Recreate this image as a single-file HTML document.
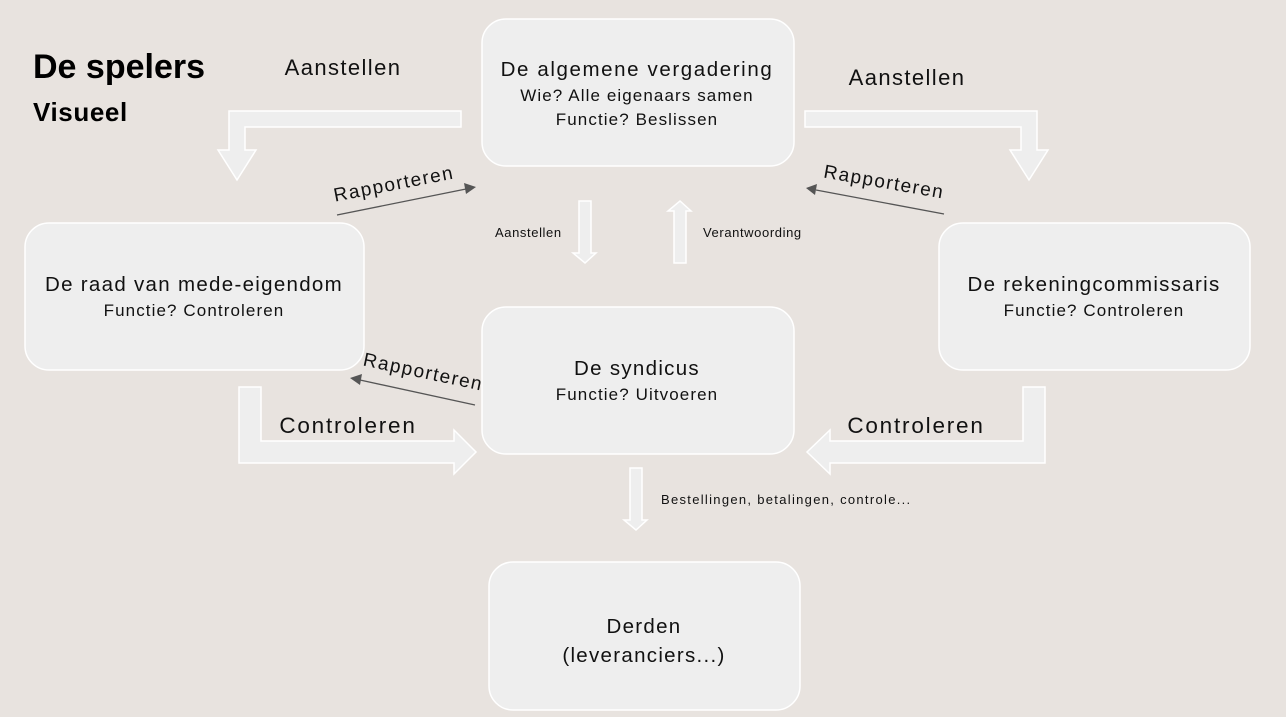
<!DOCTYPE html>
<html><head><meta charset="utf-8"><style>
html,body{margin:0;padding:0;background:#e8e3df;}
svg{display:block;font-family:"Liberation Sans",sans-serif;}
</style></head><body>
<svg width="1286" height="717" viewBox="0 0 1286 717">
<rect width="1286" height="717" fill="#e8e3df"/>
<g fill="#eeeeee" stroke="#ffffff" stroke-width="1.5">
<rect x="482" y="19" width="312" height="147" rx="24"/>
<rect x="25" y="223" width="339" height="147" rx="24"/>
<rect x="939" y="223" width="311" height="147" rx="24"/>
<rect x="482" y="307" width="312" height="147" rx="24"/>
<rect x="489" y="562" width="311" height="148" rx="24"/>
<polygon points="461,111 461,127 245,127 245,150 256,150 237,180 218,150 229,150 229,111"/>
<polygon points="805,111 805,127 1021,127 1021,150 1010,150 1029,180 1048,150 1037,150 1037,111"/>
<polygon points="239,387 261,387 261,441 454,441 454,430 476,452 454,474 454,463 239,463"/>
<polygon points="1045,387 1023,387 1023,441 830,441 830,430 807,452 830,474 830,463 1045,463"/>
<polygon points="579,201 591,201 591,253 596,253 585,263 573,253 579,253"/>
<polygon points="674,263 686,263 686,211 691,211 680,201 668,211 674,211"/>
<polygon points="630,468 642,468 642,520 647,520 636,530 624,520 630,520"/>
</g>
<g stroke="#555" stroke-width="1.3" fill="#555">
<line x1="337" y1="215" x2="466" y2="189"/><polygon points="476,187 464,183 466,194" stroke="none"/>
<line x1="944" y1="214" x2="816" y2="190"/><polygon points="806,188 817,184 815,195" stroke="none"/>
<line x1="475" y1="405" x2="360" y2="380"/><polygon points="350,378 362,374 360,385" stroke="none"/>
</g>
<g fill="#111" text-anchor="middle">
<text x="637" y="76" font-size="20.5" letter-spacing="1.6">De algemene vergadering</text>
<text x="637" y="101" font-size="17" letter-spacing="1.1">Wie? Alle eigenaars samen</text>
<text x="637" y="125" font-size="17" letter-spacing="1.1">Functie? Beslissen</text>
<text x="194" y="291" font-size="20.5" letter-spacing="1.3">De raad van mede-eigendom</text>
<text x="194" y="316" font-size="17" letter-spacing="1.1">Functie? Controleren</text>
<text x="1094" y="291" font-size="20.5" letter-spacing="1.3">De rekeningcommissaris</text>
<text x="1094" y="316" font-size="17" letter-spacing="1.1">Functie? Controleren</text>
<text x="637" y="375" font-size="20.5" letter-spacing="1.3">De syndicus</text>
<text x="637" y="400" font-size="17" letter-spacing="1.1">Functie? Uitvoeren</text>
<text x="644" y="633" font-size="20.5" letter-spacing="1.3">Derden</text>
<text x="644" y="662" font-size="20.5" letter-spacing="1.3">(leveranciers...)</text>
<text x="343" y="75" font-size="22" letter-spacing="1.4">Aanstellen</text>
<text x="907" y="85" font-size="22" letter-spacing="1.4">Aanstellen</text>
<text x="348" y="433" font-size="22.5" letter-spacing="1.8">Controleren</text>
<text x="916" y="433" font-size="22.5" letter-spacing="1.8">Controleren</text>
<text x="395" y="190" font-size="19" letter-spacing="1.5" transform="rotate(-11 395 190)">Rapporteren</text>
<text x="883" y="188" font-size="19" letter-spacing="1.5" transform="rotate(10 883 188)">Rapporteren</text>
<text x="422" y="378" font-size="19" letter-spacing="1.5" transform="rotate(12 422 378)">Rapporteren</text>
</g>
<g fill="#111" font-size="13">
<text x="495" y="237" letter-spacing="0.6">Aanstellen</text>
<text x="703" y="237" letter-spacing="0.6">Verantwoording</text>
<text x="661" y="504" letter-spacing="1.3">Bestellingen, betalingen, controle...</text>
</g>
<text x="33" y="78" font-size="34" font-weight="bold" fill="#000">De spelers</text>
<text x="33" y="121" font-size="26" font-weight="bold" fill="#000" letter-spacing="0.6">Visueel</text>
</svg>
</body></html>
